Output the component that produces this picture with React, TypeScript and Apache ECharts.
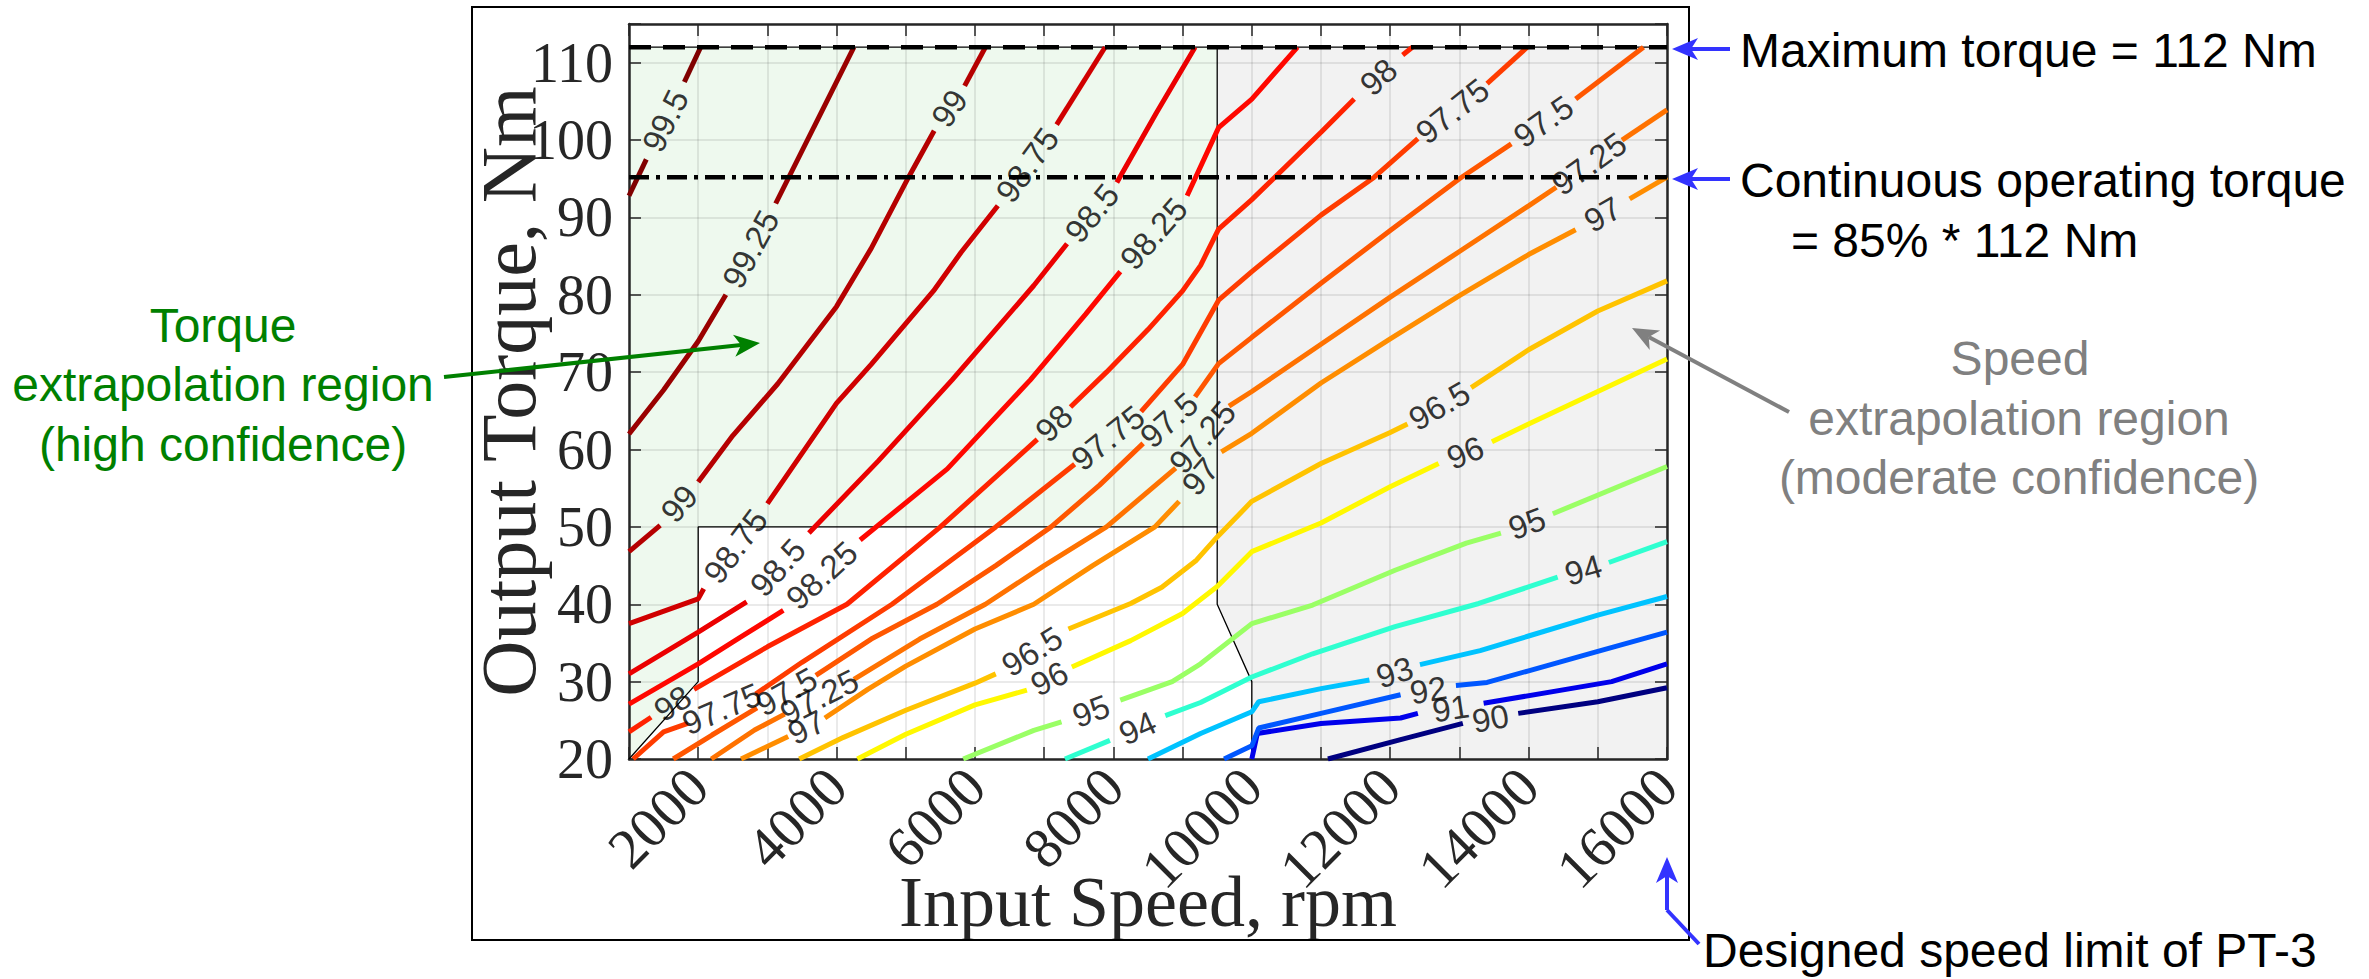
import React, { useEffect, useRef } from "react";
import * as echarts from "echarts";

const CHART_W = 2369;
const CHART_H = 979;

// ---- axes ----
const speedMin = 1000;
const speedMax = 16000;
const speedStep = 1000;
const torqueMin = 20;
const torqueMax = 115;
const torqueStep = 10;

// ---- reference lines ----
const maxTorqueLine = [[1000, 112], [16000, 112]];
const contTorqueLine = [[1000, 95.2], [16000, 95.2]];

// ---- confidence regions ----
const greenRegion = [[1000, 20], [2000, 30], [2000, 50], [9500, 50], [9500, 112], [1000, 112]];
const grayRegion = [[9500, 112], [16000, 112], [16000, 20], [10000, 20], [10000, 30], [9500, 40]];
const borderLow = [[1000, 20], [2000, 30], [2000, 50], [9500, 50]];
const borderRight = [[9500, 112], [9500, 40], [10000, 30], [10000, 20]];

// ---- efficiency contour levels (%) ----
const levels = [90, 91, 92, 93, 94, 95, 96, 96.5, 97, 97.25, 97.5, 97.75, 98, 98.25, 98.5, 98.75, 99, 99.25, 99.5];

// each contour: pieces of [speed rpm, torque Nm]; gaps between pieces hold the labels
const c90 = [[[11100, 20], [12150, 22.5], [13050, 24.6]], [[13850, 25.9], [15000, 27.4], [16000, 29.2]]];
const c91 = [[[10000, 20], [10080, 23.3], [11000, 24.6], [12150, 25.3], [12400, 25.9]], [[13350, 27.2], [15200, 30], [16000, 32.3]]];
const c92 = [[[9600, 20], [10000, 21.7], [10100, 24], [11000, 25.9], [12150, 28.3]], [[12950, 29.5], [13400, 29.9], [14000, 31.4], [15000, 33.9], [16000, 36.4]]];
const c93 = [[[8500, 20], [9260, 23.3], [10000, 26.1], [10100, 27.4], [11000, 29.1], [11700, 30.2]], [[12430, 32.2], [13300, 34], [14000, 35.9], [15000, 38.6], [16000, 41]]];
const c94 = [[[7300, 20], [7950, 22.4]], [[8750, 25.6], [9260, 27.3], [10000, 30.6], [10880, 33.6], [12070, 37.1], [13280, 40.1], [14420, 43.5]], [[15160, 45.4], [16000, 48.1]]];
const c95 = [[[5830, 20], [6850, 23.7], [7250, 24.8]], [[8100, 27.6], [8850, 30], [9260, 32.3], [10000, 37.5], [10880, 39.9], [12070, 44.4], [13100, 47.9], [13600, 49.2]], [[14350, 51.7], [16000, 57.8]]];
const c96 = [[[4300, 20], [5000, 23.2], [6000, 27], [6750, 28.9]], [[7400, 31.9], [8250, 35.3], [9000, 38.8], [9500, 42.3], [10000, 46.8], [11000, 50.5], [12000, 55.2], [12700, 58.2]], [[13470, 61], [14000, 63.3], [15000, 67.5], [16000, 71.7]]];
const c96_5 = [[[3460, 20], [4100, 22.8], [5000, 26.3], [6000, 29.8], [6300, 31]], [[7350, 36.8], [8250, 40.1], [8700, 42.2], [9200, 45.7], [9500, 48.7], [10000, 53.3], [11000, 58.2], [12000, 62.2], [12250, 63.3]], [[13170, 68], [14000, 72.9], [15000, 77.9], [16000, 81.8]]];
const c97 = [[[2620, 20], [3300, 22.9]], [[3830, 25.3], [4450, 29], [5000, 32], [6000, 36.8], [6850, 40], [7700, 45], [8600, 50], [8950, 53.3]], [[9560, 59.7], [10000, 62.1], [11000, 68.6], [12000, 74.3], [13000, 79.9], [14000, 85.2], [14680, 88.4]], [[15460, 92.4], [16000, 95.2]]];
const c97_25 = [[[2190, 20], [2815, 23.75], [3250, 25.8]], [[4250, 30.3], [5200, 35.5], [6150, 40], [7000, 45], [7900, 50], [8900, 57.6]], [[9670, 65.6], [10000, 67.5], [11000, 73.6], [12000, 79.7], [13000, 85.6], [14000, 91.5], [14400, 93.9]], [[15350, 100], [16000, 103.9]]];
const c97_5 = [[[1640, 20], [2200, 23.1], [2850, 26.6]], [[3700, 30.8], [4500, 35.5], [5450, 40], [6300, 45], [7100, 50], [7800, 55.4], [8430, 60.8]], [[9180, 66.8], [9520, 71.1], [10000, 74.5], [11000, 81.5], [12000, 88.3], [13000, 95], [13750, 99.5]], [[14680, 105.3], [15660, 112]]];
const c97_75 = [[[1060, 20], [1500, 23.5], [1850, 24.6]], [[2830, 28.4], [3500, 32.5], [4800, 40], [6300, 50], [7440, 58.1]], [[8400, 64.9], [9000, 71], [9520, 79.3], [10000, 83], [11000, 90.3], [11770, 95.2], [12400, 100.2]], [[13400, 107.3], [13980, 112]]];
const c98 = [[[1000, 23.5], [1320, 25.4]], [[1940, 29], [3000, 34.5], [4150, 40], [5500, 50], [6900, 61.3]], [[7380, 65.5], [7900, 70], [8500, 75.5], [9000, 80.5], [9260, 83.8], [9520, 88.5], [10000, 92.3], [11000, 101], [11480, 105.3]], [[12180, 111], [12320, 112]]];
const c98_25 = [[[1000, 27.1], [2000, 32.3], [2600, 35.7], [3230, 39.2]], [[4340, 48.3], [5600, 57.5], [6800, 69], [7600, 77.5], [8100, 83]], [[9065, 92.8], [9520, 101.6], [10000, 105.3], [10660, 112]]];
const c98_5 = [[[1000, 31], [2000, 36.4], [2700, 40.3]], [[3600, 49.2], [4600, 58.5], [5670, 69], [6850, 81.2], [7330, 86.6]], [[8050, 94.5], [8620, 103.5], [9180, 112]]];
const c98_75 = [[[1000, 37.5], [2000, 40.7], [2080, 42]], [[3000, 53], [4000, 66], [4500, 71], [5400, 80.5], [5800, 85.5], [6330, 91.5]], [[7180, 102], [7880, 112]]];
const c99 = [[[1000, 46.8], [1450, 50.2]], [[2000, 55.8], [2500, 61.8], [3150, 68.5], [4000, 78.5], [4500, 86], [5040, 95.2], [5410, 101.2]], [[5850, 107], [6150, 112]]];
const c99_25 = [[[1000, 62], [1500, 67.7], [2000, 74], [2400, 80]], [[3120, 91.8], [4250, 112]]];
const c99_5 = [[[1000, 92.8], [1250, 97.5]], [[1800, 107.5], [2035, 112]]];

const contours = [c90, c91, c92, c93, c94, c95, c96, c96_5, c97, c97_25, c97_5, c97_75, c98, c98_25, c98_5, c98_75, c99, c99_25, c99_5];

// ---- layout ----
const GRID = { left: 629, top: 24, width: 1038, height: 735 };
const SERIF = '"Liberation Serif", "Times New Roman", serif';
const SANS = '"Liberation Sans", Arial, sans-serif';
const AXIS_COLOR = "#262626";
const BLUE = "#3333ff";
const GREEN = "#008000";
const GRAY_TXT = "#808080";

function jet(t: number): string {
  const c = (v: number) => Math.round(255 * Math.max(0, Math.min(1, v)));
  return `rgb(${c(1.5 - Math.abs(4 * t - 3))},${c(1.5 - Math.abs(4 * t - 2))},${c(1.5 - Math.abs(4 * t - 1))})`;
}

function arrow(x1: number, y1: number, x2: number, y2: number, color: string, L = 26, w = 11, notch = 7, lw = 4) {
  const dx = x2 - x1, dy = y2 - y1;
  const len = Math.hypot(dx, dy);
  const ux = dx / len, uy = dy / len;
  const vx = -uy, vy = ux;
  const bx = x2 - ux * L, by = y2 - uy * L;
  const nx = x2 - ux * (L - notch), ny = y2 - uy * (L - notch);
  return [
    { type: "line", shape: { x1, y1, x2: nx, y2: ny }, style: { stroke: color, lineWidth: lw }, z: 20 },
    {
      type: "polygon",
      shape: { points: [[x2, y2], [bx + vx * w, by + vy * w], [nx, ny], [bx - vx * w, by - vy * w]] },
      style: { fill: color },
      z: 20,
    },
  ];
}

function txt(text: string, x: number, y: number, color: string, align = "left", size = 48) {
  return {
    type: "text",
    x,
    y,
    z: 20,
    style: {
      text,
      fill: color,
      fontSize: size,
      fontFamily: SANS,
      align,
      verticalAlign: "middle",
      textAlign: align,
      textVerticalAlign: "middle",
    },
  };
}

function fillSeries(poly: number[][], color: string) {
  return {
    type: "custom",
    coordinateSystem: "cartesian2d",
    silent: true,
    z: 0,
    data: [poly[0]],
    renderItem: (_p: any, api: any) => ({
      type: "polygon",
      shape: { points: poly.map((q) => api.coord(q)) },
      style: { fill: color },
    }),
  };
}

function plainLine(data: number[][], color: string, width: number, type: any, z: number) {
  return {
    type: "line",
    data,
    symbol: "none",
    silent: true,
    z,
    lineStyle: { color, width, type },
    emphasis: { disabled: true },
  };
}

function buildOption() {
  const pxX = GRID.width / (speedMax - speedMin);
  const pxY = GRID.height / (torqueMax - torqueMin);
  const series: any[] = [];

  series.push(fillSeries(greenRegion, "#eef9ee"));
  series.push(fillSeries(grayRegion, "#f2f2f2"));
  series.push(plainLine(borderLow, "#000", 1.3, "solid", 2));
  series.push(plainLine(borderRight, "#000", 1.3, "solid", 2));
  series.push(plainLine(maxTorqueLine, "#000", 1.3, "solid", 2));

  const labelData: any[] = [];
  contours.forEach((pieces, i) => {
    const lv = levels[i];
    const color = jet((lv - levels[0]) / (levels[levels.length - 1] - levels[0]));
    pieces.forEach((piece) => {
      series.push(plainLine(piece, color, 5, "solid", 3));
    });
    for (let k = 0; k < pieces.length - 1; k++) {
      const a = pieces[k][pieces[k].length - 1];
      const b = pieces[k + 1][0];
      const ang = (Math.atan2((b[1] - a[1]) * pxY, (b[0] - a[0]) * pxX) * 180) / Math.PI;
      labelData.push({
        value: [(a[0] + b[0]) / 2, (a[1] + b[1]) / 2],
        label: { rotate: ang, formatter: String(lv) },
      });
    }
  });

  series.push(plainLine(maxTorqueLine, "#000", 4.5, [22, 12], 5));
  series.push(plainLine(contTorqueLine, "#000", 4.5, [20, 7, 4, 7], 5));

  series.push({
    type: "scatter",
    data: labelData,
    symbolSize: 1,
    silent: true,
    z: 6,
    itemStyle: { color: "rgba(0,0,0,0)" },
    emphasis: { disabled: true },
    label: {
      show: true,
      position: "inside",
      color: "#000",
      fontSize: 33,
      fontFamily: SANS,
    },
  });

  const axisLine = { show: true, onZero: false, lineStyle: { color: AXIS_COLOR, width: 2.5 } };
  const axisTick = { show: true, inside: true, length: 12, lineStyle: { color: AXIS_COLOR, width: 1.5 } };
  const splitLine = { show: true, lineStyle: { color: "rgba(0,0,0,0.11)", width: 1.5 } };

  const graphics: any[] = [
    {
      type: "rect",
      shape: { x: 472, y: 7, width: 1217, height: 933 },
      style: { fill: "none", stroke: "#000", lineWidth: 2 },
      z: 15,
    },
    txt("Maximum torque = 112 Nm", 1740, 50, "#000"),
    txt("Continuous operating torque", 1740, 180, "#000"),
    txt("= 85% * 112 Nm", 1791, 240, "#000"),
    txt("Speed", 2020, 358, GRAY_TXT, "center"),
    txt("extrapolation region", 2019, 418, GRAY_TXT, "center"),
    txt("(moderate confidence)", 2019, 477, GRAY_TXT, "center"),
    txt("Torque", 223, 325, GREEN, "center"),
    txt("extrapolation region", 223, 384, GREEN, "center"),
    txt("(high confidence)", 223, 444, GREEN, "center"),
    txt("Designed speed limit of PT-3", 1703, 950, "#000"),
    ...arrow(1730, 49, 1672, 49, BLUE),
    ...arrow(1730, 179, 1672, 179, BLUE),
    {
      type: "polyline",
      shape: { points: [[1699, 944], [1667, 910]] },
      style: { stroke: BLUE, lineWidth: 4, fill: "none" },
      z: 20,
    },
    ...arrow(1667, 910, 1667, 857, BLUE),
    ...arrow(444, 377, 760, 343, GREEN),
    ...arrow(1789, 412, 1632, 328, "#808080"),
  ];

  return {
    animation: false,
    grid: { ...GRID, containLabel: false },
    xAxis: [
      {
        type: "value",
        min: speedMin,
        max: speedMax,
        interval: speedStep,
        position: "bottom",
        z: 1,
        axisLine,
        axisTick,
        splitLine,
        axisLabel: {
          show: true,
          rotate: 45,
          margin: 18,
          fontSize: 57,
          fontFamily: SERIF,
          color: AXIS_COLOR,
          formatter: (v: number) => (v % 2000 === 0 ? String(v) : ""),
        },
        name: "Input Speed, rpm",
        nameLocation: "middle",
        nameGap: 107,
        nameMoveOverlap: false,
        nameTextStyle: { fontSize: 72, fontFamily: SERIF, color: AXIS_COLOR },
      },
      {
        type: "value",
        min: speedMin,
        max: speedMax,
        interval: speedStep,
        position: "top",
        z: 1,
        axisLine,
        axisTick,
        axisLabel: { show: false },
        splitLine: { show: false },
      },
    ],
    yAxis: [
      {
        type: "value",
        min: torqueMin,
        max: torqueMax,
        interval: torqueStep,
        position: "left",
        z: 1,
        axisLine,
        axisTick,
        splitLine,
        axisLabel: {
          show: true,
          margin: 16,
          fontSize: 56,
          fontFamily: SERIF,
          color: AXIS_COLOR,
          formatter: (v: number) => (v === torqueMax ? "" : String(v)),
        },
        name: "Output Torque, Nm",
        nameLocation: "middle",
        nameGap: 82,
        nameMoveOverlap: false,
        nameTextStyle: { fontSize: 78, fontFamily: SERIF, color: AXIS_COLOR },
      },
      {
        type: "value",
        min: torqueMin,
        max: torqueMax,
        interval: torqueStep,
        position: "right",
        z: 1,
        axisLine,
        axisTick,
        axisLabel: { show: false },
        splitLine: { show: false },
      },
    ],
    series,
    graphic: { elements: graphics },
  };
}

export default function App() {
  const ref = useRef<HTMLDivElement>(null);
  useEffect(() => {
    const el = ref.current;
    if (!el) return;
    const chart = echarts.init(el, undefined, { renderer: "svg", width: CHART_W, height: CHART_H });
    chart.setOption(buildOption() as any);
    return () => chart.dispose();
  }, []);
  return (
    <div
      ref={ref}
      style={{ position: "fixed", left: 0, top: 0, width: CHART_W, height: CHART_H, background: "#fff" }}
    />
  );
}
